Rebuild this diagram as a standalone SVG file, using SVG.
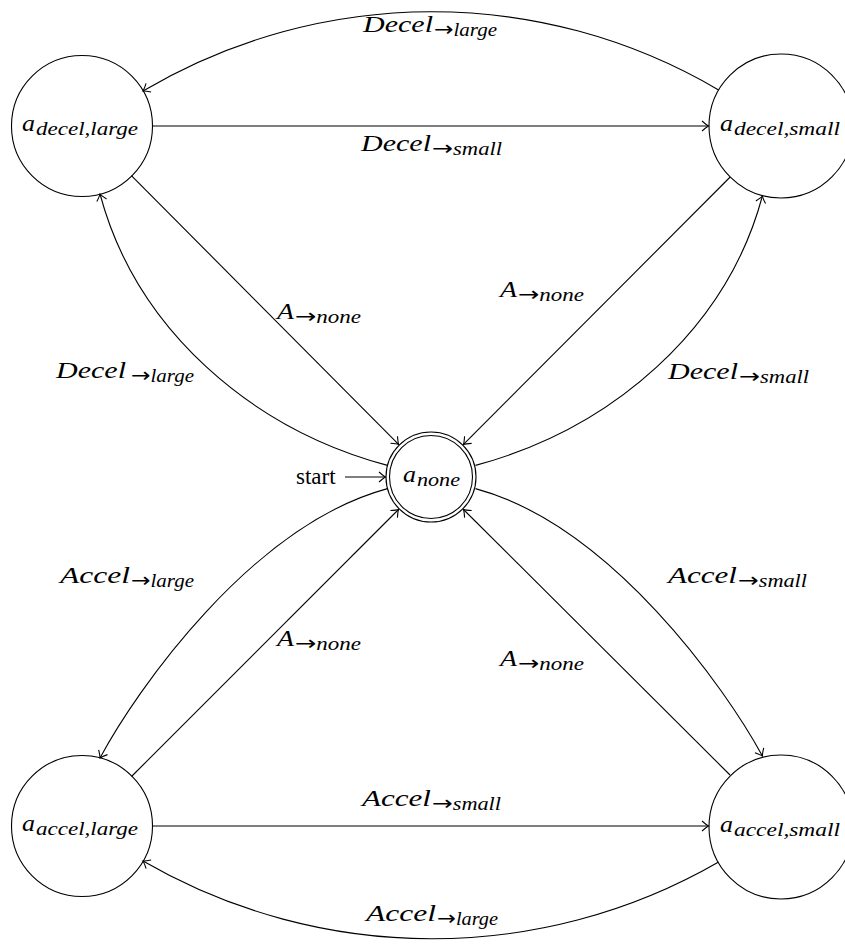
<svg xmlns="http://www.w3.org/2000/svg" width="845" height="944" viewBox="0 0 845 944">
<style>
.node{fill:none;stroke:#000;stroke-width:1.1}
.edge{fill:none;stroke:#000;stroke-width:1.1;marker-end:url(#arr)}
.m{font-family:"Liberation Serif","DejaVu Serif",serif;font-style:italic;font-size:24px;fill:#000}
.s{font-family:"Liberation Serif","DejaVu Serif",serif;font-style:italic;font-size:18px;fill:#000}
.ar{font-family:"DejaVu Sans",sans-serif;font-style:normal;font-size:20px}
.r{font-family:"Liberation Serif","DejaVu Serif",serif;font-size:23px;fill:#000}
</style>
<defs>
<marker id="arr" markerUnits="userSpaceOnUse" markerWidth="14" markerHeight="14" viewBox="-10 -7 12 14" refX="0" refY="0" orient="auto" overflow="visible">
<path d="M-6.5,-5 Q-2,-1 0,0 Q-2,1 -6.5,5" fill="none" stroke="#000" stroke-width="1.1"/>
</marker>
</defs>
<rect width="845" height="944" fill="#fff"/>
<g id="connectors">
<path class="edge" d="M152.5,126 L708.5,126"/>
<path class="edge" d="M718.6,90 C540.2,-15 321,-14 143,91"/>
<path class="edge" d="M131.4,175.6 L398.6,444.4"/>
<path class="edge" d="M730.2,177 L463.5,444.4"/>
<path class="edge" d="M387.5,465.4 C251.3,428.9 136.5,329.8 100,194"/>
<path class="edge" d="M475.5,465.4 C611.7,428.9 726.5,329.8 762.4,196"/>
<path class="edge" d="M345,477 L385.5,477"/>
<path class="edge" d="M131.5,776.5 L398.5,509.5"/>
<path class="edge" d="M730,775 L463.5,509.5"/>
<path class="edge" d="M387.5,488.6 C251.3,525.5 136.5,689.8 100,758"/>
<path class="edge" d="M475.5,488.6 C611.7,525.5 726.5,689.8 762.4,756"/>
<path class="edge" d="M152.5,826 L708.5,826"/>
<path class="edge" d="M718.6,862 C540.2,965 321,964 143,861"/>
</g>
<g id="n_decel_large">
<circle class="node" cx="82" cy="126" r="70.5"/>
<text class="m" x="22" y="131" textLength="13" lengthAdjust="spacingAndGlyphs">a</text>
<text class="s" x="36" y="135" textLength="102" lengthAdjust="spacingAndGlyphs">decel,large</text>
</g>
<g id="n_decel_small">
<circle class="node" cx="781" cy="126" r="72"/>
<text class="m" x="720" y="131" textLength="13" lengthAdjust="spacingAndGlyphs">a</text>
<text class="s" x="734" y="135" textLength="106" lengthAdjust="spacingAndGlyphs">decel,small</text>
</g>
<g id="n_none">
<circle class="node" cx="431" cy="477" r="45"/>
<circle class="node" cx="431" cy="477" r="41.5"/>
<text class="m" x="403" y="482" textLength="13" lengthAdjust="spacingAndGlyphs">a</text>
<text class="s" x="417" y="486" textLength="43" lengthAdjust="spacingAndGlyphs">none</text>
</g>
<g id="n_accel_large">
<circle class="node" cx="82" cy="826" r="70.5"/>
<text class="m" x="22" y="831" textLength="13" lengthAdjust="spacingAndGlyphs">a</text>
<text class="s" x="36" y="835" textLength="102" lengthAdjust="spacingAndGlyphs">accel,large</text>
</g>
<g id="n_accel_small">
<circle class="node" cx="781" cy="827" r="72"/>
<text class="m" x="720" y="832" textLength="13" lengthAdjust="spacingAndGlyphs">a</text>
<text class="s" x="734" y="836" textLength="106" lengthAdjust="spacingAndGlyphs">accel,small</text>
</g>
<g id="labels">
<text class="m" x="363" y="32" textLength="70" lengthAdjust="spacingAndGlyphs">Decel</text>
<text class="s" x="434" y="36" textLength="63" lengthAdjust="spacingAndGlyphs"><tspan class="ar">→</tspan>large</text>
<text class="m" x="361" y="151" textLength="70" lengthAdjust="spacingAndGlyphs">Decel</text>
<text class="s" x="432" y="155" textLength="70" lengthAdjust="spacingAndGlyphs"><tspan class="ar">→</tspan>small</text>
<text class="m" x="277" y="319" textLength="17" lengthAdjust="spacingAndGlyphs">A</text>
<text class="s" x="295" y="323" textLength="66" lengthAdjust="spacingAndGlyphs"><tspan class="ar">→</tspan>none</text>
<text class="m" x="500" y="297" textLength="17" lengthAdjust="spacingAndGlyphs">A</text>
<text class="s" x="518" y="301" textLength="66" lengthAdjust="spacingAndGlyphs"><tspan class="ar">→</tspan>none</text>
<text class="m" x="56" y="378" textLength="70" lengthAdjust="spacingAndGlyphs">Decel</text>
<text class="s" x="131" y="382" textLength="63" lengthAdjust="spacingAndGlyphs"><tspan class="ar">→</tspan>large</text>
<text class="m" x="668" y="379" textLength="70" lengthAdjust="spacingAndGlyphs">Decel</text>
<text class="s" x="739" y="383" textLength="70" lengthAdjust="spacingAndGlyphs"><tspan class="ar">→</tspan>small</text>
<text class="r" x="296" y="484">start</text>
<text class="m" x="60" y="583" textLength="70" lengthAdjust="spacingAndGlyphs">Accel</text>
<text class="s" x="131" y="587" textLength="63" lengthAdjust="spacingAndGlyphs"><tspan class="ar">→</tspan>large</text>
<text class="m" x="668" y="583" textLength="69" lengthAdjust="spacingAndGlyphs">Accel</text>
<text class="s" x="738" y="587" textLength="69" lengthAdjust="spacingAndGlyphs"><tspan class="ar">→</tspan>small</text>
<text class="m" x="277" y="646" textLength="17" lengthAdjust="spacingAndGlyphs">A</text>
<text class="s" x="295" y="650" textLength="66" lengthAdjust="spacingAndGlyphs"><tspan class="ar">→</tspan>none</text>
<text class="m" x="500" y="666" textLength="17" lengthAdjust="spacingAndGlyphs">A</text>
<text class="s" x="518" y="670" textLength="66" lengthAdjust="spacingAndGlyphs"><tspan class="ar">→</tspan>none</text>
<text class="m" x="362" y="806" textLength="69" lengthAdjust="spacingAndGlyphs">Accel</text>
<text class="s" x="432" y="810" textLength="69" lengthAdjust="spacingAndGlyphs"><tspan class="ar">→</tspan>small</text>
<text class="m" x="366" y="921" textLength="70" lengthAdjust="spacingAndGlyphs">Accel</text>
<text class="s" x="437" y="925" textLength="61" lengthAdjust="spacingAndGlyphs"><tspan class="ar">→</tspan>large</text>
</g>
</svg>
